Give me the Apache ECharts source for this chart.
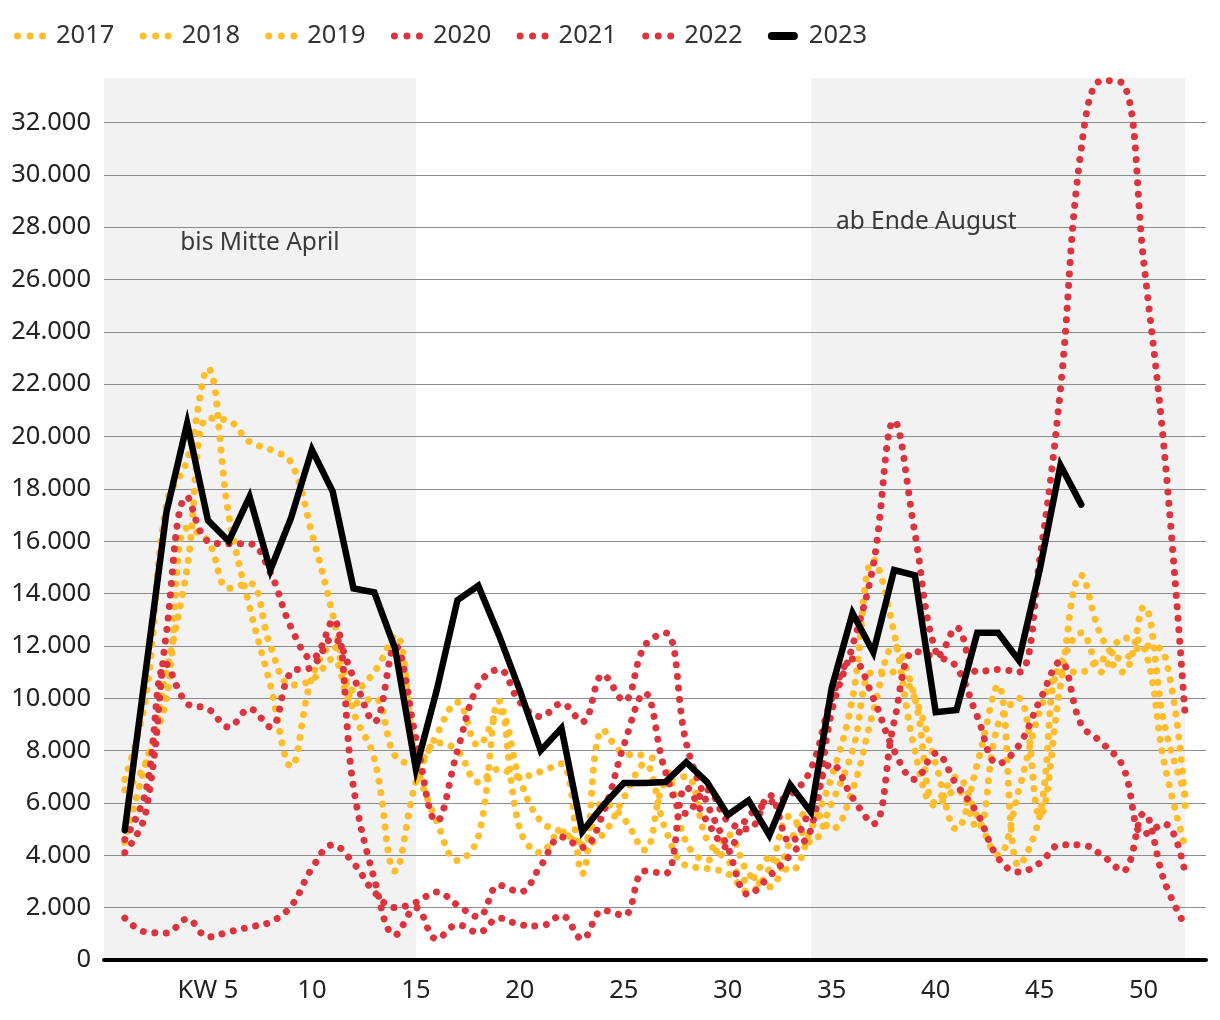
<!DOCTYPE html>
<html>
<head>
<meta charset="utf-8">
<script src="https://cdn.jsdelivr.net/npm/echarts@6/dist/echarts.min.js"></script>
<style>
html,body{margin:0;padding:0;background:#fff;}
#chart{width:1220px;height:1020px;}
</style>
</head>
<body>
<div id="chart"></div>
<script>
// ---------- data ----------
const weeks = Array.from({length: 52}, (_, i) => i + 1);
const years = ['2017', '2018', '2019', '2020', '2021', '2022', '2023'];

const v2017 = [6500, 7500, 11000, 15000, 20700, 20600, 19800, 19500, 19000, 16300, 13200, 9500, 7700, 3400, 6800, 8600, 9850, 8200, 9500, 6900, 5300, 4900, 4500, 6000, 5400, 4200, 6800, 7000, 4600, 3800, 3000, 3900, 3400, 5000, 7000, 10000, 15300, 12500, 8000, 5900, 6500, 5000, 9000, 10000, 5500, 10500, 14700, 12300, 11500, 12000, 11700, 5900];
const v2018 = [6900, 10000, 17400, 19100, 22600, 17000, 13500, 10500, 7400, 10800, 12000, 10300, 11000, 12400, 7600, 5300, 3800, 4700, 9900, 5000, 4100, 4900, 4400, 4800, 6200, 7500, 5000, 3600, 3500, 3300, 2600, 3500, 5500, 4500, 6000, 8000, 11000, 11000, 10000, 7500, 5000, 7500, 10500, 3600, 5500, 11000, 11000, 11500, 11000, 13500, 9000, 6300];
const v2019 = [4500, 7500, 10000, 16500, 16000, 14200, 14400, 12000, 10500, 10700, 11500, 9800, 10000, 7800, 7500, 8300, 8000, 6800, 7300, 7000, 7200, 7500, 3300, 8800, 7900, 7800, 7400, 4500, 3800, 4800, 3300, 2800, 4500, 5800, 5000, 6500, 9500, 12000, 10000, 6000, 7000, 5500, 4000, 6500, 9500, 11300, 12500, 11000, 12300, 12000, 7500, 4300];
const v2020 = [4100, 5600, 12500, 17700, 16000, 15900, 15900, 14800, 12700, 11500, 13000, 6600, 3100, 950, 2000, 800, 1350, 1050, 1600, 1350, 1300, 1700, 800, 1900, 1700, 3400, 3300, 6600, 5300, 4300, 5500, 6000, 6300, 7300, 10000, 11500, 10000, 8000, 6900, 7900, 6700, 5600, 3900, 3360, 3700, 4400, 4400, 4000, 3400, 5600, 3000, 1300];
const v2021 = [1600, 1070, 1030, 1570, 880, 1070, 1260, 1450, 2060, 3500, 4400, 3700, 2600, 2000, 2200, 2600, 2100, 1650, 2860, 2600, 3600, 4700, 4300, 5600, 8200, 10200, 7200, 5600, 6500, 5300, 5000, 6300, 4500, 5800, 7500, 6200, 5200, 9100, 11800, 11600, 12700, 11000, 11100, 11000, 15300, 21800, 31000, 33600, 33500, 26700, 19400, 9300];
const v2022 = [4600, 6400, 11300, 9800, 9600, 8900, 9600, 8900, 11000, 11200, 12300, 10800, 9100, 12000, 8500, 5300, 8000, 10500, 11100, 9850, 9300, 9800, 9100, 10900, 9900, 12000, 12500, 8300, 6000, 4300, 2500, 3200, 4000, 5000, 9500, 12000, 15100, 20600, 16300, 11800, 11200, 9300, 7500, 8200, 9900, 11400, 9000, 8300, 7400, 4800, 5200, 3300];
const v2023 = [4960, 11000, 17100, 20500, 16800, 16000, 17700, 14900, 16900, 19500, 17900, 14200, 14050, 11900, 7300, 10300, 13750, 14300, 12400, 10300, 8000, 8860, 4900, 5900, 6760, 6760, 6800, 7560, 6800, 5540, 6100, 4770, 6700, 5650, 10400, 13250, 11760, 14900, 14700, 9470, 9550, 12500, 12500, 11450, 14900, 18900, 17400];

const xTickLabels = {5: 'KW 5', 10: '10', 15: '15', 20: '20', 25: '25', 30: '30', 35: '35', 40: '40', 45: '45', 50: '50'};
const yMin = 0, yMax = 33700, yStep = 2000;
const shadedWeeks = [[0, 15], [34, 52]];
const notes = [
  {text: 'bis Mitte April', week: 7.5, value: 27400, align: 'center'},
  {text: 'ab Ende August', week: 35.2, value: 28200, align: 'left'}
];

// ---------- styling ----------
const FONT = '"Noto Sans", "Open Sans", sans-serif';
const YELLOW = '#FFBD2C';
const RED = '#DB343F';
const DOTS_ICON = 'path://M0,3.5a3.5,3.5 0 1,0 7,0a3.5,3.5 0 1,0 -7,0Z M12.5,3.5a3.5,3.5 0 1,0 7,0a3.5,3.5 0 1,0 -7,0Z M25,3.5a3.5,3.5 0 1,0 7,0a3.5,3.5 0 1,0 -7,0Z';
const BAR_ICON = 'path://M4,0H26A4,4 0 0 1 26,8H4A4,4 0 0 1 4,0Z';

function fmtDE(v) {
  return String(v).replace(/\B(?=(\d{3})+(?!\d))/g, '.');
}
function pairs(arr) {
  return arr.map((v, i) => [weeks[i], v]);
}
function dotted(name, arr, color) {
  return {
    name: name, type: 'line', data: pairs(arr), smooth: 0.4,
    symbol: 'none', showSymbol: false, z: 2,
    color: color,
    lineStyle: {color: color, width: 7, type: [0.01, 11.5], cap: 'round'},
    emphasis: {disabled: true}
  };
}
const colorOf = {'2017': YELLOW, '2018': YELLOW, '2019': YELLOW, '2020': RED, '2021': RED, '2022': RED, '2023': '#000'};

const series = [
  {
    name: 'bg', type: 'line', data: [], z: -5, zlevel: 0, silent: true,
    markArea: {
      silent: true, z: -5,
      itemStyle: {color: '#f2f2f2'},
      data: shadedWeeks.map(w => [{xAxis: w[0], yAxis: yMax}, {xAxis: w[1], yAxis: yMin}])
    }
  },
  {
    name: 'notes', type: 'line', data: [], z: 5, silent: true,
    markPoint: {
      symbol: 'circle', symbolSize: 0, silent: true,
      data: notes.map(n => ({
        coord: [n.week, n.value], value: n.text,
        label: {show: true, position: 'inside', formatter: n.text, align: n.align,
                fontSize: 24.5, fontFamily: FONT, color: '#3a3a3a'}
      }))
    }
  },
  dotted('2017', v2017, YELLOW),
  dotted('2018', v2018, YELLOW),
  dotted('2019', v2019, YELLOW),
  dotted('2020', v2020, RED),
  dotted('2021', v2021, RED),
  dotted('2022', v2022, RED),
  {
    name: '2023', type: 'line', data: pairs(v2023), smooth: false,
    symbol: 'none', showSymbol: false, z: 4, color: '#000',
    lineStyle: {color: '#000', width: 6.5, join: 'miter', cap: 'round'},
    emphasis: {disabled: true}
  }
];

const chart = echarts.init(document.getElementById('chart'), null, {renderer: 'canvas'});
chart.setOption({
  animation: false,
  backgroundColor: '#fff',
  textStyle: {fontFamily: FONT},
  legend: {
    data: years.map(y => ({
      name: y,
      icon: y === '2023' ? BAR_ICON : DOTS_ICON,
      itemStyle: {color: colorOf[y], borderWidth: 0}
    })),
    left: 9, top: 18, itemWidth: 32, itemHeight: 8, itemGap: 25.3,
    textStyle: {fontSize: 25.5, color: '#333', fontFamily: FONT, padding: [0, 0, 0, 5]},
    selectedMode: false
  },
  grid: {left: 104, right: 14, top: 78, bottom: 60, containLabel: false},
  xAxis: {
    type: 'value', min: 0, max: 53, interval: 5, z: 3,
    axisLine: {show: true, onZero: false, lineStyle: {color: '#000', width: 4}},
    axisTick: {show: false},
    splitLine: {show: false},
    axisLabel: {
      fontSize: 25.5, color: '#222', fontFamily: FONT, margin: 18,
      formatter: v => xTickLabels[v] || ''
    }
  },
  yAxis: {
    type: 'value', min: yMin, max: yMax, interval: yStep, z: 1,
    axisLine: {show: false}, axisTick: {show: false},
    splitLine: {show: true, showMaxLine: false, lineStyle: {color: '#8c8c8c', width: 1.2}},
    axisLabel: {
      fontSize: 25.5, color: '#222', fontFamily: FONT, margin: 13,
      showMaxLabel: false,
      formatter: v => (v % yStep === 0 ? fmtDE(v) : '')
    }
  },
  series: series
});
</script>
</body>
</html>
